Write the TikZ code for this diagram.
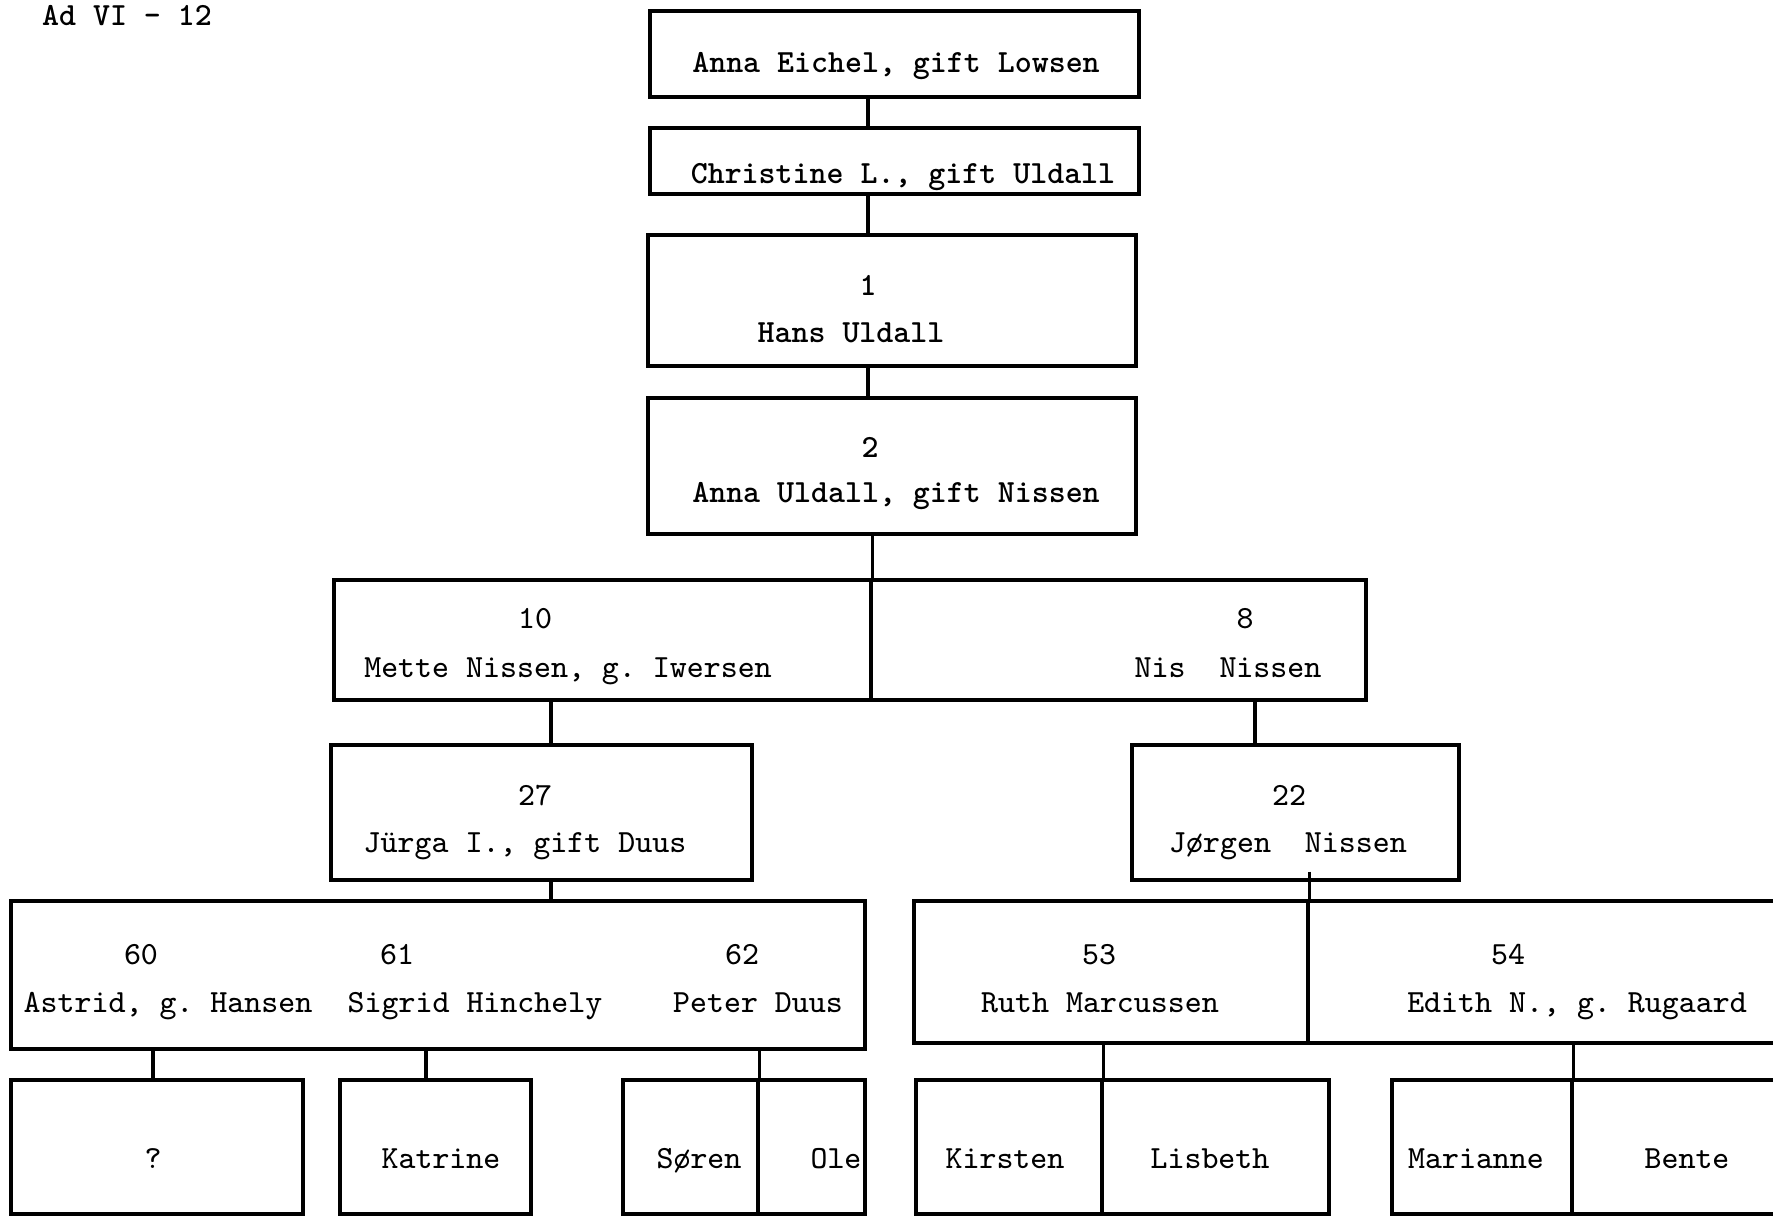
\documentclass[tikz,border=0pt]{standalone}
\usetikzlibrary{fit}

\begin{document}
\frenchspacing
\begin{tikzpicture}[
  x=0.1mm, y=-0.1mm,
  font=\ttfamily\fontsize{9.2}{11}\selectfont,
  box/.style={draw=black, line width=0.9pt, inner sep=0pt},
  link/.style={black, line width=0.9pt},
  persontxt/.style={inner sep=0pt, anchor=base, yshift=-1mm},
  headtxt/.style={persontxt, font=\ttfamily\bfseries\fontsize{9.2}{11}\selectfont},
]
\useasboundingbox (0,0) rectangle (1773,1217);

\node[headtxt] (sheet) at (127,16) {Ad VI - 12};

% ---- top line of ancestors ----
\node[box, fit={(650,11) (1139,97)}]   (eichel)    {};
\node[box, fit={(650,128) (1139,194)}] (christine) {};
\node[box, fit={(648,235) (1136,366)}] (hans)      {};
\node[box, fit={(648,398) (1136,534)}] (anna)      {};

\node[headtxt] (eicheltxt)    at (896,62)  {Anna Eichel, gift Lowsen};
\node[headtxt] (christinetxt) at (903,173) {Christine L., gift Uldall};
\node[headtxt] (hansno)       at (868,285) {1};
\node[headtxt] (hanstxt)      at (851,332) {Hans Uldall};
\node[headtxt] (annano)       at (870,447) {2};
\node[headtxt] (annatxt)      at (896,492) {Anna Uldall, gift Nissen};

\coordinate (spine) at (868,0);
\draw[link] (spine |- eichel.south)    -- (spine |- christine.north);
\draw[link] (spine |- christine.south) -- (spine |- hans.north);
\draw[link] (spine |- hans.south)      -- (spine |- anna.north);

% ---- children of 2 ----
\node[box, fit={(334,580) (871,700)}]  (mette) {};
\node[box, fit={(871,580) (1366,700)}] (nis)   {};
\draw[link] (mette.north east |- anna.south) -- (mette.north east);

\node[persontxt] (metteno)  at (535,618)  {10};
\node[persontxt] (mettetxt) at (568,667)  {Mette Nissen, g. Iwersen};
\node[persontxt] (nisno)    at (1245,618) {8};
\node[persontxt] (nistxt)   at (1228,667) {Nis~~Nissen};

% ---- grandchildren ----
\node[box, fit={(331,745) (752,880)}]   (jurga)  {};
\node[box, fit={(1132,745) (1459,880)}] (jorgen) {};

\node[persontxt] (jurgano)   at (535,795)  {27};
\node[persontxt] (jurgatxt)  at (525,842)  {Jürga I., gift Duus};
\node[persontxt] (jorgenno)  at (1289,795) {22};
\node[persontxt] (jorgentxt) at (1288,842) {Jørgen~~Nissen};

\coordinate (leftline)  at (551,0);
\coordinate (rightline) at (1255,0);
\draw[link] (leftline |- mette.south) -- (leftline |- jurga.north);
\draw[link] (rightline |- nis.south)  -- (rightline |- jorgen.north);

% ---- fourth row ----
\node[box, fit={(11,901) (865,1049)}]    (duus)  {};
\node[box, fit={(914,901) (1308,1043)}]  (ruth)  {};
\node[box, fit={(1308,901) (1800,1043)}] (edith) {};

\node[persontxt] (astridno)  at (141,954)   {60};
\node[persontxt] (astridtxt) at (168,1002)  {Astrid, g. Hansen};
\node[persontxt] (sigridno)  at (397,954)   {61};
\node[persontxt] (sigridtxt) at (475,1002)  {Sigrid Hinchely};
\node[persontxt] (peterno)   at (742,954)   {62};
\node[persontxt] (petertxt)  at (758,1002)  {Peter Duus};
\node[persontxt] (ruthno)    at (1099,954)  {53};
\node[persontxt] (ruthtxt)   at (1100,1002) {Ruth Marcussen};
\node[persontxt] (edithno)   at (1508,954)  {54};
\node[persontxt] (edithtxt)  at (1577,1002) {Edith N., g. Rugaard};

\draw[link] (leftline |- jurga.south) -- (leftline |- duus.north);
\draw[link] ([yshift=1mm]ruth.north east |- jorgen.south) -- (ruth.north east);

% ---- youngest row ----
\node[box, fit={(11,1080) (303,1214)}]    (unknown)  {};
\node[box, fit={(340,1080) (531,1214)}]   (katrine)  {};
\node[box, fit={(623,1080) (758,1214)}]   (soren)    {};
\node[box, fit={(758,1080) (865,1214)}]   (ole)      {};
\node[box, fit={(916,1080) (1102,1214)}]  (kirsten)  {};
\node[box, fit={(1102,1080) (1329,1214)}] (lisbeth)  {};
\node[box, fit={(1392,1080) (1572,1214)}] (marianne) {};
\node[box, fit={(1572,1080) (1800,1214)}] (bente)    {};

\node[persontxt] (unknowntxt)  at (153,1158)  {?};
\node[persontxt] (katrinetxt)  at (441,1158)  {Katrine};
\node[persontxt] (sorentxt)    at (699,1158)  {Søren};
\node[persontxt] (oletxt)      at (836,1158)  {Ole};
\node[persontxt] (kirstentxt)  at (1005,1158) {Kirsten};
\node[persontxt] (lisbethtxt)  at (1210,1158) {Lisbeth};
\node[persontxt] (mariannetxt) at (1476,1158) {Marianne};
\node[persontxt] (bentetxt)    at (1687,1158) {Bente};

\coordinate (astridline) at (153,0);
\coordinate (sigridline) at (426,0);
\draw[link] (astridline |- duus.south) -- (astridline |- unknown.north);
\draw[link] (sigridline |- duus.south) -- (sigridline |- katrine.north);
\draw[link] (soren.north east |- duus.south)    -- (soren.north east);
\draw[link] (kirsten.north east |- ruth.south)  -- (kirsten.north east);
\draw[link] (marianne.north east |- edith.south) -- (marianne.north east);

\end{tikzpicture}
\end{document}
